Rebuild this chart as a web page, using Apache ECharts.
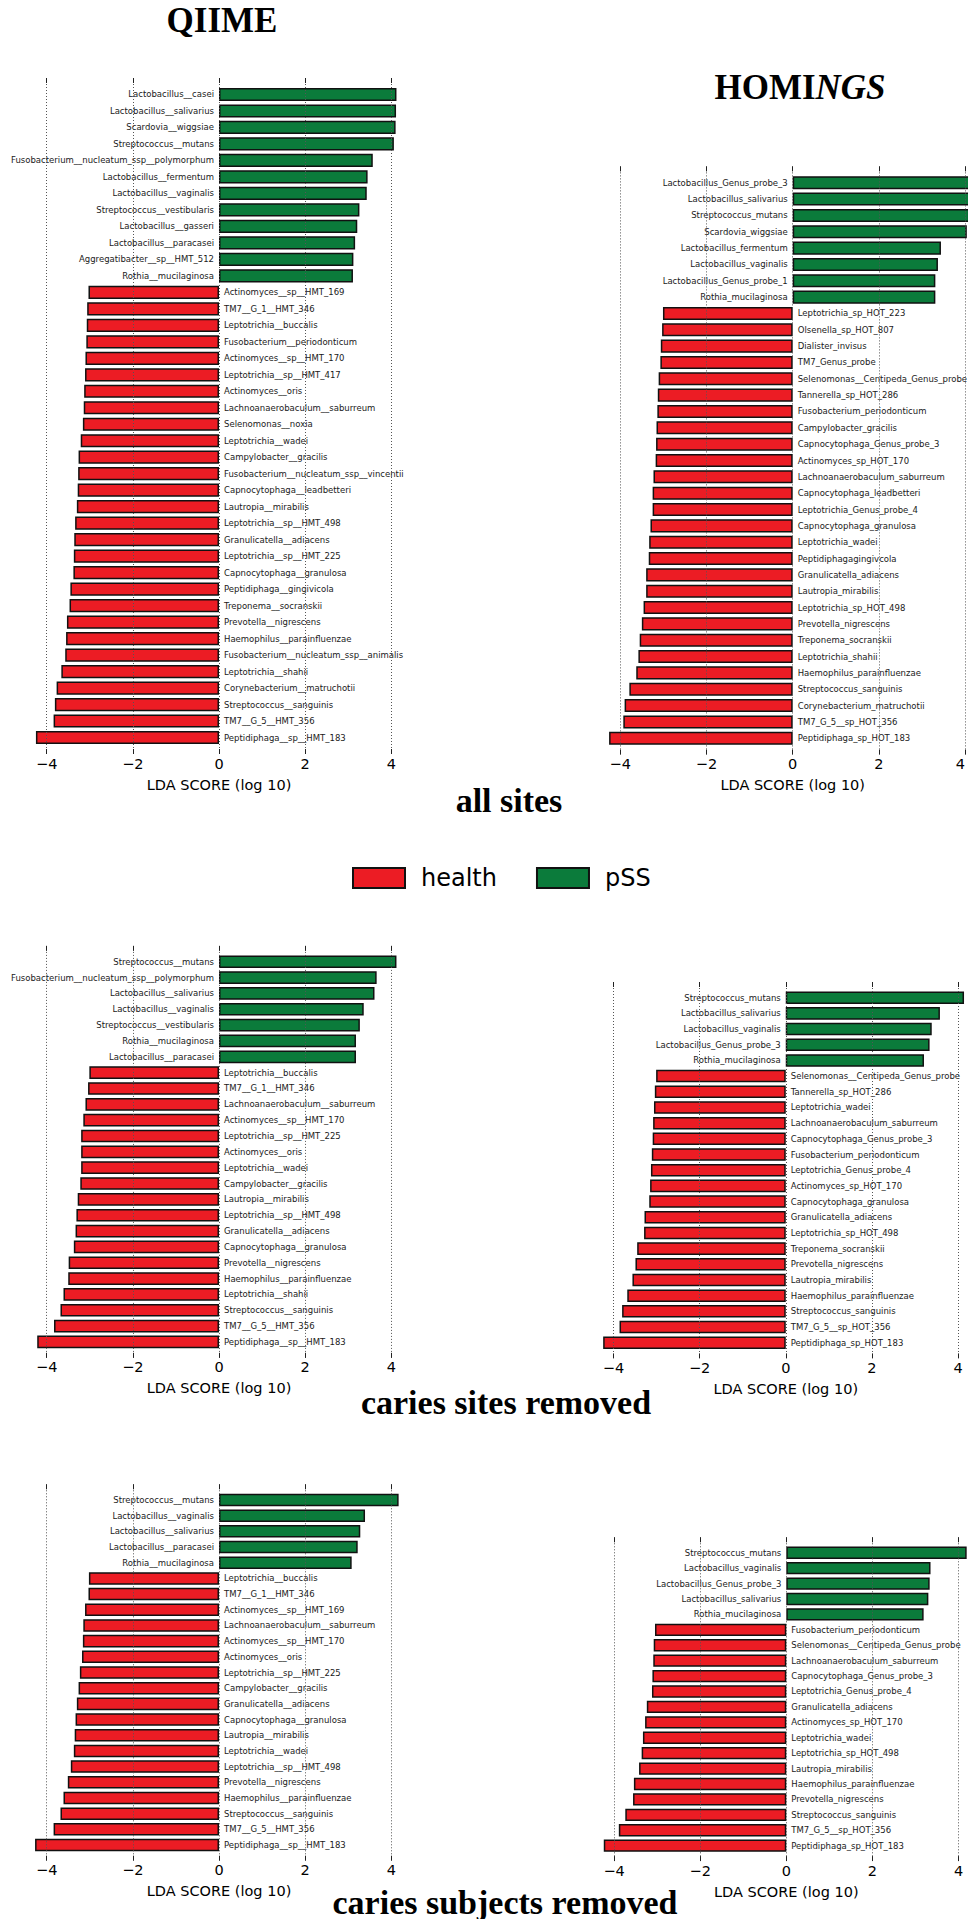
<!DOCTYPE html>
<html><head><meta charset="utf-8">
<script src="https://cdn.jsdelivr.net/npm/echarts@6/dist/echarts.min.js"></script>
<style>html,body{margin:0;padding:0;background:#fff}#chart{width:968px;height:1919px}</style>
</head><body><div id="chart"></div>
<script>
// ---------------- data ----------------
const xTicks = [-4, -2, 0, 2, 4];
const seriesNames = ['health', 'pSS'];
const panelTitles = ['QIIME', 'HOMINGS'];
const rowCaptions = ['all sites', 'caries sites removed', 'caries subjects removed'];
const axisTitle = 'LDA SCORE (log 10)';

const qiimeAllNames = ['Lactobacillus__casei','Lactobacillus__salivarius','Scardovia__wiggsiae','Streptococcus__mutans','Fusobacterium__nucleatum_ssp__polymorphum','Lactobacillus__fermentum','Lactobacillus__vaginalis','Streptococcus__vestibularis','Lactobacillus__gasseri','Lactobacillus__paracasei','Aggregatibacter__sp__HMT_512','Rothia__mucilaginosa','Actinomyces__sp__HMT_169','TM7__G_1__HMT_346','Leptotrichia__buccalis','Fusobacterium__periodonticum','Actinomyces__sp__HMT_170','Leptotrichia__sp__HMT_417','Actinomyces__oris','Lachnoanaerobaculum__saburreum','Selenomonas__noxia','Leptotrichia__wadei','Campylobacter__gracilis','Fusobacterium__nucleatum_ssp__vincentii','Capnocytophaga__leadbetteri','Lautropia__mirabilis','Leptotrichia__sp__HMT_498','Granulicatella__adiacens','Leptotrichia__sp__HMT_225','Capnocytophaga__granulosa','Peptidiphaga__gingivicola','Treponema__socranskii','Prevotella__nigrescens','Haemophilus__parainfluenzae','Fusobacterium__nucleatum_ssp__animalis','Leptotrichia__shahii','Corynebacterium__matruchotii','Streptococcus__sanguinis','TM7__G_5__HMT_356','Peptidiphaga__sp__HMT_183'];
const qiimeAllValues = [4.12,4.11,4.10,4.06,3.57,3.45,3.43,3.26,3.21,3.16,3.12,3.11,-3.03,-3.06,-3.07,-3.08,-3.10,-3.11,-3.13,-3.14,-3.16,-3.21,-3.26,-3.27,-3.28,-3.30,-3.34,-3.36,-3.37,-3.38,-3.45,-3.47,-3.53,-3.55,-3.57,-3.66,-3.77,-3.81,-3.84,-4.25];

const homingsAllNames = ['Lactobacillus_Genus_probe_3','Lactobacillus_salivarius','Streptococcus_mutans','Scardovia_wiggsiae','Lactobacillus_fermentum','Lactobacillus_vaginalis','Lactobacillus_Genus_probe_1','Rothia_mucilaginosa','Leptotrichia_sp_HOT_223','Olsenella_sp_HOT_807','Dialister_invisus','TM7_Genus_probe','Selenomonas__Centipeda_Genus_probe','Tannerella_sp_HOT_286','Fusobacterium_periodonticum','Campylobacter_gracilis','Capnocytophaga_Genus_probe_3','Actinomyces_sp_HOT_170','Lachnoanaerobaculum_saburreum','Capnocytophaga_leadbetteri','Leptotrichia_Genus_probe_4','Capnocytophaga_granulosa','Leptotrichia_wadei','Peptidiphagagingivcola','Granulicatella_adiacens','Lautropia_mirabilis','Leptotrichia_sp_HOT_498','Prevotella_nigrescens','Treponema_socranskii','Leptotrichia_shahii','Haemophilus_parainfluenzae','Streptococcus_sanguinis','Corynebacterium_matruchotii','TM7_G_5__sp_HOT_356','Peptidiphaga_sp_HOT_183'];
const homingsAllValues = [4.12,4.11,4.10,4.04,3.44,3.37,3.31,3.31,-3.01,-3.03,-3.06,-3.07,-3.11,-3.13,-3.14,-3.16,-3.17,-3.18,-3.23,-3.25,-3.25,-3.30,-3.33,-3.34,-3.40,-3.40,-3.46,-3.50,-3.55,-3.58,-3.63,-3.79,-3.90,-3.93,-4.26];

const qiimeSitesNames = ['Streptococcus__mutans','Fusobacterium__nucleatum_ssp__polymorphum','Lactobacillus__salivarius','Lactobacillus__vaginalis','Streptococcus__vestibularis','Rothia__mucilaginosa','Lactobacillus__paracasei','Leptotrichia__buccalis','TM7__G_1__HMT_346','Lachnoanaerobaculum__saburreum','Actinomyces__sp__HMT_170','Leptotrichia__sp__HMT_225','Actinomyces__oris','Leptotrichia__wadei','Campylobacter__gracilis','Lautropia__mirabilis','Leptotrichia__sp__HMT_498','Granulicatella__adiacens','Capnocytophaga__granulosa','Prevotella__nigrescens','Haemophilus__parainfluenzae','Leptotrichia__shahii','Streptococcus__sanguinis','TM7__G_5__HMT_356','Peptidiphaga__sp__HMT_183'];
const qiimeSitesValues = [4.12,3.66,3.61,3.36,3.27,3.18,3.18,-3.01,-3.04,-3.10,-3.15,-3.20,-3.20,-3.20,-3.22,-3.28,-3.31,-3.33,-3.37,-3.49,-3.50,-3.61,-3.68,-3.83,-4.22];

const homingsSitesNames = ['Streptococcus_mutans','Lactobacillus_salivarius','Lactobacillus_vaginalis','Lactobacillus_Genus_probe_3','Rothia_mucilaginosa','Selenomonas__Centipeda_Genus_probe','Tannerella_sp_HOT_286','Leptotrichia_wadei','Lachnoanaerobaculum_saburreum','Capnocytophaga_Genus_probe_3','Fusobacterium_periodonticum','Leptotrichia_Genus_probe_4','Actinomyces_sp_HOT_170','Capnocytophaga_granulosa','Granulicatella_adiacens','Leptotrichia_sp_HOT_498','Treponema_socranskii','Prevotella_nigrescens','Lautropia_mirabilis','Haemophilus_parainfluenzae','Streptococcus_sanguinis','TM7_G_5__sp_HOT_356','Peptidiphaga_sp_HOT_183'];
const homingsSitesValues = [4.14,3.58,3.39,3.34,3.21,-3.01,-3.04,-3.06,-3.08,-3.09,-3.11,-3.13,-3.15,-3.17,-3.28,-3.29,-3.45,-3.49,-3.56,-3.68,-3.80,-3.86,-4.24];

const qiimeSubjectsNames = ['Streptococcus__mutans','Lactobacillus__vaginalis','Lactobacillus__salivarius','Lactobacillus__paracasei','Rothia__mucilaginosa','Leptotrichia__buccalis','TM7__G_1__HMT_346','Actinomyces__sp__HMT_169','Lachnoanaerobaculum__saburreum','Actinomyces__sp__HMT_170','Actinomyces__oris','Leptotrichia__sp__HMT_225','Campylobacter__gracilis','Granulicatella__adiacens','Capnocytophaga__granulosa','Lautropia__mirabilis','Leptotrichia__wadei','Leptotrichia__sp__HMT_498','Prevotella__nigrescens','Haemophilus__parainfluenzae','Streptococcus__sanguinis','TM7__G_5__HMT_356','Peptidiphaga__sp__HMT_183'];
const qiimeSubjectsValues = [4.17,3.39,3.28,3.22,3.08,-3.02,-3.03,-3.11,-3.15,-3.16,-3.18,-3.23,-3.26,-3.30,-3.33,-3.35,-3.37,-3.44,-3.51,-3.61,-3.68,-3.84,-4.27];

const homingsSubjectsNames = ['Streptococcus_mutans','Lactobacillus_vaginalis','Lactobacillus_Genus_probe_3','Lactobacillus_salivarius','Rothia_mucilaginosa','Fusobacterium_periodonticum','Selenomonas__Centipeda_Genus_probe','Lachnoanaerobaculum_saburreum','Capnocytophaga_Genus_probe_3','Leptotrichia_Genus_probe_4','Granulicatella_adiacens','Actinomyces_sp_HOT_170','Leptotrichia_wadei','Leptotrichia_sp_HOT_498','Lautropia_mirabilis','Haemophilus_parainfluenzae','Prevotella_nigrescens','Streptococcus_sanguinis','TM7_G_5__sp_HOT_356','Peptidiphaga_sp_HOT_183'];
const homingsSubjectsValues = [4.19,3.35,3.33,3.30,3.19,-3.05,-3.08,-3.09,-3.11,-3.12,-3.24,-3.28,-3.33,-3.36,-3.42,-3.54,-3.56,-3.74,-3.89,-4.24];

// ---------------- layout ----------------
const panels = [
  {names: qiimeAllNames, values: qiimeAllValues, box: {left: 46.7, right: 576.7, top: 78, bottom: 1165}},
  {names: homingsAllNames, values: homingsAllValues, box: {left: 620.3, right: 2.9, top: 166.4, bottom: 1164.4}, alignMax: 'right'},
  {names: qiimeSitesNames, values: qiimeSitesValues, box: {left: 46.7, right: 576.7, top: 945.9, bottom: 561.2}},
  {names: homingsSitesNames, values: homingsSitesValues, box: {left: 613.5, right: 10, top: 982, bottom: 560.6}},
  {names: qiimeSubjectsNames, values: qiimeSubjectsValues, box: {left: 46.7, right: 576.7, top: 1484.3, bottom: 58.3}},
  {names: homingsSubjectsNames, values: homingsSubjectsValues, box: {left: 614.1, right: 9.5, top: 1537.3, bottom: 57.9}}
];

const RED = '#ec1c24', GREEN = '#0b7b3b';
const SANS = 'DejaVu Sans', SERIF = 'Liberation Serif';
const fmtTick = v => (v < 0 ? '\u2212' + Math.abs(v) : String(v));

const grid = [], xAxis = [], yAxis = [], series = [];
panels.forEach((p, i) => {
  grid.push(Object.assign({containLabel: false, outerBoundsMode: 'none'}, p.box));
  const common = {
    gridIndex: i, type: 'value', min: xTicks[0], max: xTicks[xTicks.length - 1],
    interval: xTicks[1] - xTicks[0], z: 10,
    axisLine: {show: false},
    axisTick: {show: true, inside: true, length: 5, lineStyle: {color: '#222', width: 1}}
  };
  const axisLabel = {show: true, margin: 2, fontSize: 14.5, fontFamily: SANS, color: '#000', formatter: fmtTick};
  if (p.alignMax) axisLabel.alignMaxLabel = p.alignMax;
  xAxis.push(Object.assign({}, common, {
    position: 'bottom',
    axisLabel: axisLabel,
    splitLine: {show: true, lineStyle: {color: '#555', width: 1, type: [1, 2]}},
    name: axisTitle, nameLocation: 'middle', nameGap: 23,
    nameTextStyle: {fontSize: 14.5, fontFamily: SANS, color: '#000'}
  }));
  xAxis.push(Object.assign({}, common, {
    position: 'top', axisLabel: {show: false}, splitLine: {show: false}
  }));
  yAxis.push({
    gridIndex: i, type: 'category', inverse: true, boundaryGap: false, show: false,
    data: [''].concat(p.names, [' '])
  });
  const mk = (pos) => ['-'].concat(p.values.map(v => (pos ? (v > 0 ? v : '-') : (v < 0 ? v : '-'))), ['-']);
  const lbl = (position) => ({
    show: true, position: position, distance: 5, fontSize: 8.5, fontFamily: SANS, color: '#1a1a1a',
    formatter: prm => prm.name
  });
  series.push({
    name: seriesNames[0], type: 'bar', xAxisIndex: 2 * i, yAxisIndex: i, data: mk(false),
    barGap: '-100%', barCategoryGap: '20%', clip: false,
    itemStyle: {color: RED, borderColor: '#111', borderWidth: 1.5},
    label: lbl('right'), emphasis: {disabled: true}
  });
  series.push({
    name: seriesNames[1], type: 'bar', xAxisIndex: 2 * i, yAxisIndex: i, data: mk(true),
    barGap: '-100%', barCategoryGap: '20%', clip: false,
    itemStyle: {color: GREEN, borderColor: '#111', borderWidth: 1.5},
    label: lbl('left'), emphasis: {disabled: true}
  });
});

const serifBold = size => ({fontFamily: SERIF, fontWeight: 'bold', fontSize: size, color: '#000'});
const title = [
  {text: panelTitles[0], left: 222, top: 3, textAlign: 'center', padding: 0, textStyle: serifBold(35)},
  {text: '{a|HOMI}{b|NGS}', left: 800, top: 70, textAlign: 'center', padding: 0,
   textStyle: Object.assign(serifBold(35), {rich: {a: serifBold(35), b: Object.assign(serifBold(35), {fontStyle: 'italic'})}})},
  {text: rowCaptions[0], left: 509, top: 783, textAlign: 'center', padding: 0, textStyle: serifBold(34)},
  {text: rowCaptions[1], left: 506, top: 1385, textAlign: 'center', padding: 0, textStyle: serifBold(34)},
  {text: rowCaptions[2], left: 505, top: 1885, textAlign: 'center', padding: 0, textStyle: serifBold(34)}
];

const chart = echarts.init(document.getElementById('chart'), null, {renderer: 'svg'});
chart.setOption({
  backgroundColor: '#fff',
  animation: false,
  title: title,
  legend: {
    data: seriesNames, left: 352, top: 866, padding: 0,
    itemWidth: 52, itemHeight: 20, itemGap: 39, icon: 'rect',
    selectedMode: false,
    textStyle: {fontSize: 24, fontFamily: SANS, color: '#000', padding: [0, 0, 0, 11]}
  },
  grid: grid, xAxis: xAxis, yAxis: yAxis, series: series
});
</script></body></html>
